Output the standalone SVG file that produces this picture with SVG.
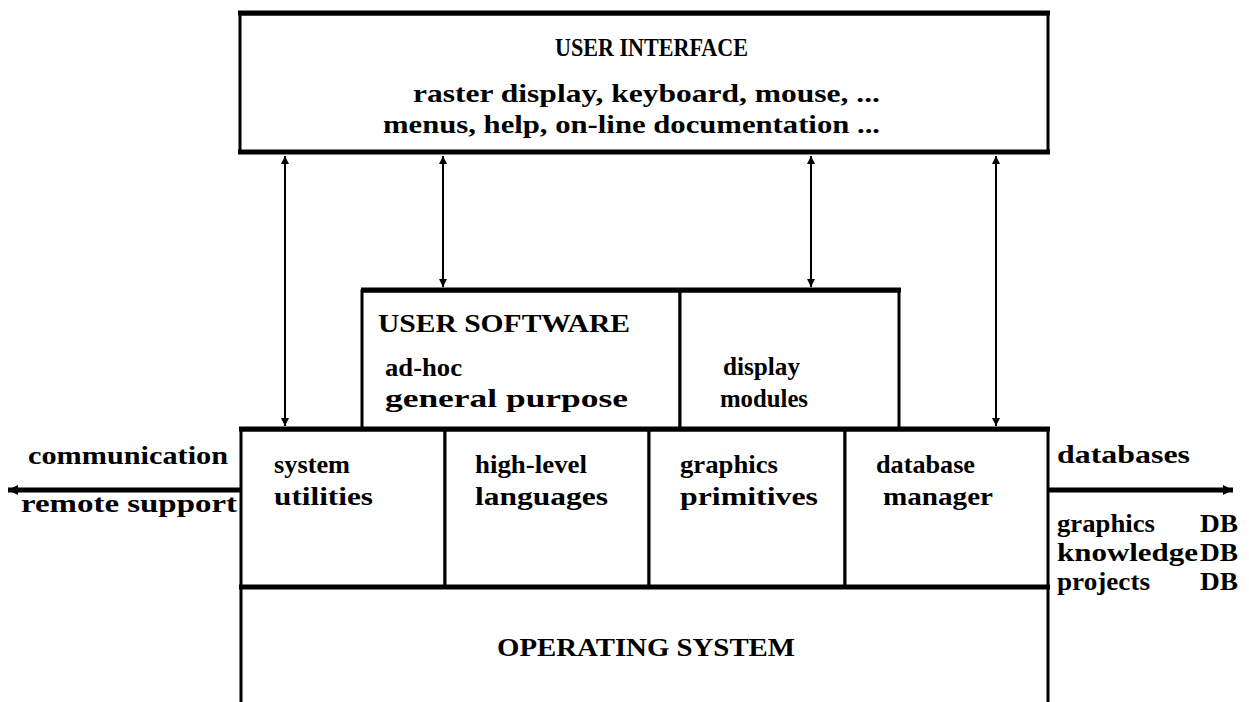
<svg xmlns="http://www.w3.org/2000/svg" width="1249" height="702" viewBox="0 0 1249 702">
  <style>
    .frame { fill: #fff; stroke: #000; stroke-width: 3; }
    .heavy { stroke: #000; stroke-width: 5; fill: none; }
    .thin { stroke: #000; stroke-width: 3; fill: none; }
    .head { font-family: "Liberation Serif", "DejaVu Serif", serif; font-weight: bold; font-size: 26px; fill: #000; }
    .txt { font-family: "Liberation Serif", "DejaVu Serif", serif; font-weight: bold; font-size: 25px; fill: #000; }
    .link { stroke: #000; stroke-width: 2; fill: none; }
    .bus { stroke: #000; stroke-width: 5; fill: none; }
  </style>
  <defs>
    <marker id="tip" markerUnits="userSpaceOnUse" markerWidth="10" markerHeight="10" refX="8" refY="5" orient="auto-start-reverse">
      <path d="M0,1 L8,5 L0,9 z" fill="#000"/>
    </marker>
    <marker id="tipBig" markerUnits="userSpaceOnUse" markerWidth="12" markerHeight="12" refX="10" refY="6" orient="auto-start-reverse">
      <path d="M0,1 L10,6 L0,11 z" fill="#000"/>
    </marker>
  </defs>

  <rect width="1249" height="702" fill="#fff"/>

  <!-- user interface layer -->
  <g id="user-interface">
    <rect class="frame" x="240" y="14" width="808" height="138"/>
    <line class="heavy" x1="238" y1="13" x2="1050" y2="13"/>
    <line class="heavy" x1="238" y1="152" x2="1050" y2="152" stroke-width="6"/>
    <text class="head" x="555" y="56" textLength="193" lengthAdjust="spacingAndGlyphs">USER INTERFACE</text>
    <text class="txt" x="413" y="102" textLength="467" lengthAdjust="spacingAndGlyphs">raster display, keyboard, mouse, ...</text>
    <text class="txt" x="383" y="133" textLength="497" lengthAdjust="spacingAndGlyphs">menus, help, on-line documentation ...</text>
  </g>

  <!-- user software layer -->
  <g id="user-software">
    <rect class="frame" x="362" y="291" width="318" height="138"/>
    <text class="head" x="378" y="332" textLength="252" lengthAdjust="spacingAndGlyphs">USER SOFTWARE</text>
    <text class="txt" x="385" y="376" textLength="77" lengthAdjust="spacingAndGlyphs">ad-hoc</text>
    <text class="txt" x="385" y="407" textLength="243" lengthAdjust="spacingAndGlyphs">general purpose</text>
  </g>
  <g id="display-modules">
    <rect class="frame" x="680" y="291" width="219" height="138"/>
    <text class="txt" x="723" y="375" textLength="77" lengthAdjust="spacingAndGlyphs">display</text>
    <text class="txt" x="720" y="407" textLength="88" lengthAdjust="spacingAndGlyphs">modules</text>
  </g>
  <line class="heavy" x1="361" y1="290" x2="901" y2="290"/>

  <!-- system services row -->
  <g id="system-utilities">
    <rect class="frame" x="241" y="430" width="204" height="157"/>
    <text class="txt" x="274" y="473" textLength="76" lengthAdjust="spacingAndGlyphs">system</text>
    <text class="txt" x="274" y="505" textLength="99" lengthAdjust="spacingAndGlyphs">utilities</text>
  </g>
  <g id="high-level-languages">
    <rect class="frame" x="445" y="430" width="204" height="157"/>
    <text class="txt" x="475" y="473" textLength="112" lengthAdjust="spacingAndGlyphs">high-level</text>
    <text class="txt" x="475" y="505" textLength="133" lengthAdjust="spacingAndGlyphs">languages</text>
  </g>
  <g id="graphics-primitives">
    <rect class="frame" x="649" y="430" width="196" height="157"/>
    <text class="txt" x="680" y="473" textLength="98" lengthAdjust="spacingAndGlyphs">graphics</text>
    <text class="txt" x="680" y="505" textLength="138" lengthAdjust="spacingAndGlyphs">primitives</text>
  </g>
  <g id="database-manager">
    <rect class="frame" x="845" y="430" width="203" height="157"/>
    <text class="txt" x="876" y="473" textLength="99" lengthAdjust="spacingAndGlyphs">database</text>
    <text class="txt" x="883" y="505" textLength="110" lengthAdjust="spacingAndGlyphs">manager</text>
  </g>
  <line class="heavy" x1="239" y1="429" x2="1050" y2="429"/>

  <!-- operating system layer -->
  <g id="operating-system">
    <path class="thin" d="M241,587 V702 M1048,587 V702"/>
    <line class="heavy" x1="239" y1="587" x2="1050" y2="587"/>
    <text class="head" x="497" y="656" textLength="298" lengthAdjust="spacingAndGlyphs">OPERATING  SYSTEM</text>
  </g>

  <!-- connectors -->
  <g id="connectors">
    <line class="link" x1="285" y1="156" x2="285" y2="426" marker-start="url(#tip)" marker-end="url(#tip)"/>
    <line class="link" x1="443" y1="156" x2="443" y2="287" marker-start="url(#tip)" marker-end="url(#tip)"/>
    <line class="link" x1="811" y1="156" x2="811" y2="287" marker-start="url(#tip)" marker-end="url(#tip)"/>
    <line class="link" x1="996" y1="156" x2="996" y2="426" marker-start="url(#tip)" marker-end="url(#tip)"/>
    <line class="bus" x1="240" y1="490" x2="8" y2="490" marker-end="url(#tipBig)"/>
    <line class="bus" x1="1049" y1="490" x2="1233" y2="490" marker-end="url(#tipBig)"/>
  </g>

  <!-- external labels -->
  <g id="communication-labels">
    <text class="txt" x="28" y="464" textLength="200" lengthAdjust="spacingAndGlyphs">communication</text>
    <text class="txt" x="21" y="512" textLength="216" lengthAdjust="spacingAndGlyphs">remote support</text>
  </g>
  <g id="database-labels">
    <text class="txt" x="1057" y="463" textLength="133" lengthAdjust="spacingAndGlyphs">databases</text>
    <text class="txt" x="1057" y="532" textLength="98" lengthAdjust="spacingAndGlyphs">graphics</text>
    <text class="txt" x="1200" y="532" textLength="38" lengthAdjust="spacingAndGlyphs">DB</text>
    <text class="txt" x="1057" y="561" textLength="141" lengthAdjust="spacingAndGlyphs">knowledge</text>
    <text class="txt" x="1200" y="561" textLength="38" lengthAdjust="spacingAndGlyphs">DB</text>
    <text class="txt" x="1057" y="590" textLength="93" lengthAdjust="spacingAndGlyphs">projects</text>
    <text class="txt" x="1200" y="590" textLength="38" lengthAdjust="spacingAndGlyphs">DB</text>
  </g>
</svg>
